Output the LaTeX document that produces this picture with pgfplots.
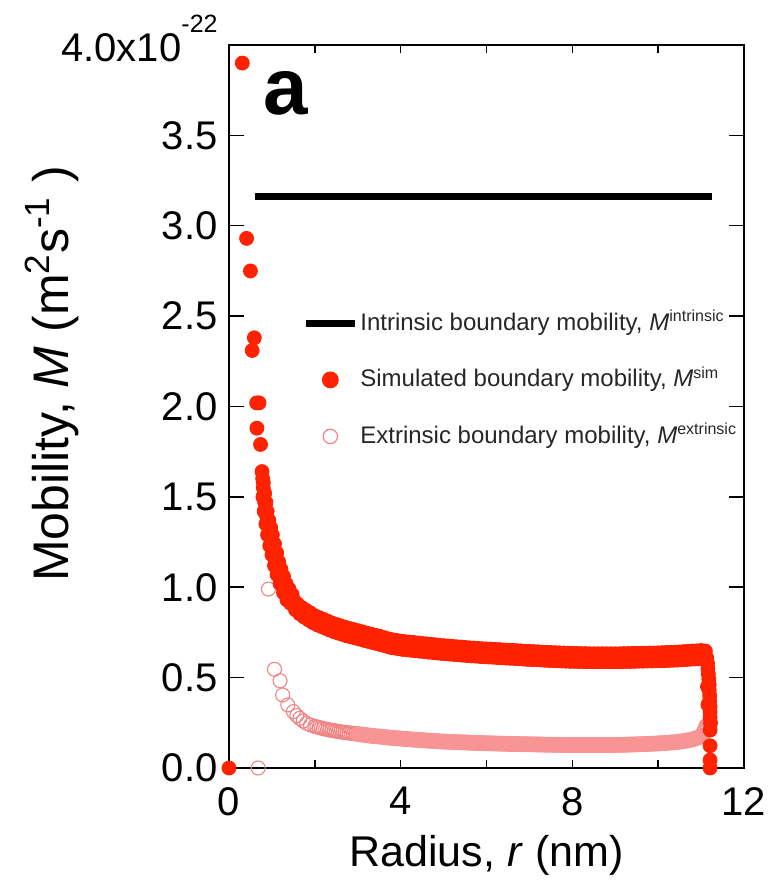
\documentclass[border=0pt]{standalone}
\usepackage{fontspec}
\setmainfont{Liberation Sans}
\usepackage{pgfplots}
\pgfplotsset{compat=1.18}

\definecolor{simred}{RGB}{255,34,0}
\definecolor{extpink}{RGB}{240,132,132}
\definecolor{extband}{RGB}{249,148,148}

\begin{document}
\begin{tikzpicture}
\path[use as bounding box] (-114.5pt,-58pt) rectangle (273pt,384pt);
\begin{axis}[
  scale only axis,
  width=257.5pt, height=361.5pt,
  xmin=0, xmax=12, ymin=0, ymax=4,
  clip=false,
  axis line style={line width=0.75pt},
  tick style={line width=0.75pt, black},
  xtick={0,2,4,6,8,10,12},
  xticklabels={0,,4,,8,,12},
  ytick={0,0.5,1,1.5,2,2.5,3,3.5,4},
  yticklabels={0.0,0.5,1.0,1.5,2.0,2.5,3.0,3.5,{4.0x10\raisebox{14.5pt}[17pt][0pt]{\fontsize{12.5}{13}\selectfont -22}}},
  xtick style={/pgfplots/major tick length=4pt},
  ytick style={/pgfplots/major tick length=7.5pt},
  ticklabel style={font=\fontsize{20}{24}\selectfont},
  yticklabel style={anchor=east, inner sep=0pt, xshift=-5.5pt},
  xticklabel style={anchor=north, inner sep=0pt, yshift=-9.5pt},
  xlabel={Radius, \textit{r} (nm)},
  xlabel style={font=\fontsize{21.5}{24}\selectfont, at={(axis description cs:0.5,-0.1369)}, anchor=base},
  ylabel={Mobility, \textit{M} (m\textsuperscript{2}s\textsuperscript{-1} )},
  ylabel style={font=\fontsize{25}{28}\selectfont, at={(axis description cs:-0.3126,0.545)}, anchor=base, rotate=0},
  legend image code/.code={\draw[mark repeat=2,mark phase=2,#1] plot coordinates {(0pt,0pt) (12.25pt,0pt) (24.5pt,0pt)};},
  legend cell align=left,
  legend style={draw=none, fill=none, inner sep=0pt,
    at={(axis cs:1.70,2.545)}, anchor=north west,
    font=\fontsize{12}{14}\selectfont\color{black!85},
    nodes={inner sep=1pt, text height=10pt, text depth=3pt},
    row sep=13.25pt,
    /tikz/every odd column/.style={column sep=0pt}},
]
% legend entries
\addlegendimage{black, line width=3.5pt}
\addlegendentry{Intrinsic boundary mobility, \textit{M}\textsuperscript{intrinsic}}
\addlegendimage{only marks, mark=*, mark size=4pt, color=simred}
\addlegendentry{Simulated boundary mobility, \textit{M}\textsuperscript{sim}}
\addlegendimage{only marks, mark=o, mark size=3.6pt, color=extpink, mark options={line width=0.6pt}}
\addlegendentry{Extrinsic boundary mobility, \textit{M}\textsuperscript{extrinsic}}

% extrinsic mobility (1e-22 m^2/s): open circles, sparse part
\addplot[forget plot, only marks, mark=o, mark size=3.5pt, color=extpink, mark options={line width=0.55pt}] coordinates {
(0.68,0.00) (0.92,0.99) (1.06,0.546) (1.19,0.483) (1.25,0.404) (1.37,0.349)
(1.50,0.312) (1.58,0.290) (1.65,0.275) (1.73,0.260) (1.81,0.247) (1.90,0.238)
(2.00,.230) (2.05,.227) (2.10,.224) (2.15,.221) (2.20,.218) (2.25,.215) (2.30,.213) (2.35,.210)
(2.40,.208) (2.45,.206) (2.50,.204) (2.55,.202) (2.60,.200) (2.65,.198) (2.70,.197) (2.75,.195)
(2.80,.194) (2.85,.192) (2.90,.191) (2.95,.189)
};
% extrinsic mobility: dense part, circles merge into a band
\addplot[forget plot, only marks, mark=o, mark size=3.4pt, color=extband, mark options={line width=1.1pt}] coordinates {
(3.00,.188) (3.05,.186) (3.10,.185) (3.15,.183)
(3.20,.182) (3.25,.180) (3.30,.179) (3.35,.177) (3.40,.176) (3.45,.175) (3.50,.174) (3.55,.173)
(3.60,.172) (3.65,.170) (3.70,.169) (3.75,.168) (3.80,.167) (3.85,.166) (3.90,.165) (3.95,.164)
(4.00,.163) (4.05,.162) (4.10,.161) (4.15,.160) (4.20,.159) (4.25,.158) (4.30,.157) (4.35,.156)
(4.40,.156) (4.45,.155) (4.50,.154) (4.55,.153) (4.60,.152) (4.65,.151) (4.70,.151) (4.75,.150)
(4.80,.149) (4.85,.148) (4.90,.148) (4.95,.147) (5.00,.146) (5.05,.146) (5.10,.145) (5.15,.145)
(5.20,.144) (5.25,.144) (5.30,.143) (5.35,.143) (5.40,.142) (5.45,.142) (5.50,.141) (5.55,.141)
(5.60,.140) (5.65,.140) (5.70,.139) (5.75,.139) (5.80,.138) (5.85,.138) (5.90,.138) (5.95,.137)
(6.00,.137) (6.05,.137) (6.10,.136) (6.15,.136) (6.20,.136) (6.25,.135) (6.30,.135) (6.35,.135)
(6.40,.134) (6.45,.134) (6.50,.134) (6.55,.133) (6.60,.133) (6.65,.133) (6.70,.133) (6.75,.132)
(6.80,.132) (6.85,.132) (6.90,.132) (6.95,.131) (7.00,.131) (7.05,.131) (7.10,.131) (7.15,.130)
(7.20,.130) (7.25,.130) (7.30,.130) (7.35,.129) (7.40,.129) (7.45,.129) (7.50,.129) (7.55,.128)
(7.60,.128) (7.65,.128) (7.70,.128) (7.75,.128) (7.80,.128) (7.85,.127) (7.90,.127) (7.95,.127)
(8.00,.127) (8.05,.127) (8.10,.127) (8.15,.127) (8.20,.127) (8.25,.127) (8.30,.127) (8.35,.127)
(8.40,.127) (8.45,.127) (8.50,.127) (8.55,.127) (8.60,.127) (8.65,.127) (8.70,.127) (8.75,.127)
(8.80,.127) (8.85,.127) (8.90,.127) (8.95,.127) (9.00,.128) (9.05,.128) (9.10,.128) (9.15,.128)
(9.20,.129) (9.25,.129) (9.30,.129) (9.35,.130) (9.40,.130) (9.45,.130) (9.50,.131) (9.55,.131)
(9.60,.132) (9.65,.132) (9.70,.133) (9.75,.133) (9.80,.134) (9.85,.134) (9.90,.135) (9.95,.135)
(10.00,.136) (10.05,.137) (10.10,.138) (10.15,.138) (10.20,.139) (10.25,.140) (10.30,.141) (10.35,.142)
(10.40,.143) (10.45,.144) (10.50,.146) (10.55,.147) (10.60,.149) (10.65,.151) (10.70,.153) (10.75,.155)
(10.80,.158) (10.85,.162) (10.90,.166) (10.95,.171) (11.00,.178) (11.05,.195) (11.08,.205) (11.10,.215)
(11.12,.232)
};
% intrinsic mobility: constant line
\addplot[forget plot, black, line width=3.5pt] coordinates {(0.61,3.16) (11.25,3.16)};
% simulated mobility (1e-22 m^2/s): filled circles
\addplot[forget plot, only marks, mark=*, mark size=3.5pt, color=simred] coordinates {
(0.00,0.00) (0.31,3.90) (0.41,2.93) (0.50,2.75) (0.54,2.31) (0.59,2.38) (0.645,2.02) (0.70,2.02)
(0.65,1.88) (0.735,1.79) (0.77,1.64) (0.785,1.60) (0.80,1.55) (0.815,1.51) (0.83,1.47) (0.85,1.43)
(0.87,1.40) (0.89,1.37) (0.91,1.34) (0.94,1.31) (0.97,1.28) (1.00,1.24) (1.04,1.20) (1.08,1.15)
(1.12,1.11) (1.17,1.07) (1.22,1.03) (1.28,0.99) (1.35,0.96) (1.42,0.94)
(0.80,1.58) (0.83,1.52) (0.86,1.47) (0.89,1.42) (0.93,1.37) (0.97,1.33) (1.01,1.29) (1.06,1.24)
(1.11,1.19) (1.16,1.14) (1.21,1.10) (1.27,1.06) (1.33,1.02) (1.40,0.99) (1.47,0.96)
(0.79,1.50) (0.82,1.42) (0.86,1.35) (0.90,1.29) (0.95,1.23) (1.00,1.18) (1.06,1.12) (1.12,1.07)
(1.19,1.02) (1.27,0.97) (1.35,0.93) (1.44,0.91)
(1.50,.932) (1.55,.875) (1.60,.907) (1.65,.853) (1.70,.887) (1.75,.835) (1.80,.872) (1.85,.820)
(1.90,.857) (1.95,.805) (2.00,.842) (2.05,.793) (2.10,.832) (2.15,.783) (2.20,.822) (2.25,.773)
(2.30,.812) (2.35,.763) (2.40,.802) (2.45,.754) (2.50,.794) (2.55,.746) (2.60,.787) (2.65,.739)
(2.70,.779) (2.75,.731) (2.80,.772) (2.85,.725) (2.90,.766) (2.95,.719) (3.00,.760) (3.05,.713)
(3.10,.754) (3.15,.706) (3.20,.747) (3.25,.700) (3.30,.741) (3.35,.694) (3.40,.735) (3.45,.688)
(3.50,.730) (3.55,.682) (3.60,.722) (3.65,.675) (3.70,.715) (3.75,.668) (3.80,.710) (3.85,.664)
(3.90,.706) (3.95,.660) (4.00,.702) (4.05,.656) (4.10,.699) (4.15,.654) (4.20,.697) (4.25,.651)
(4.30,.694) (4.35,.649) (4.40,.692) (4.45,.646) (4.50,.689) (4.55,.644) (4.60,.687) (4.65,.641)
(4.70,.684) (4.75,.639) (4.80,.682) (4.85,.636) (4.90,.679) (4.95,.634) (5.00,.677) (5.05,.632)
(5.10,.675) (5.15,.630) (5.20,.673) (5.25,.628) (5.30,.671) (5.35,.626) (5.40,.669) (5.45,.624)
(5.50,.667) (5.55,.622) (5.60,.665) (5.65,.620) (5.70,.664) (5.75,.619) (5.80,.662) (5.85,.617)
(5.90,.660) (5.95,.615) (6.00,.659) (6.05,.614) (6.10,.658) (6.15,.613) (6.20,.656) (6.25,.611)
(6.30,.655) (6.35,.610) (6.40,.653) (6.45,.608) (6.50,.652) (6.55,.607) (6.60,.651) (6.65,.606)
(6.70,.649) (6.75,.604) (6.80,.648) (6.85,.603) (6.90,.646) (6.95,.601) (7.00,.645) (7.05,.600)
(7.10,.644) (7.15,.599) (7.20,.643) (7.25,.598) (7.30,.641) (7.35,.596) (7.40,.640) (7.45,.595)
(7.50,.639) (7.55,.594) (7.60,.638) (7.65,.593) (7.70,.637) (7.75,.592) (7.80,.636) (7.85,.591)
(7.90,.635) (7.95,.590) (8.00,.634) (8.05,.590) (8.10,.634) (8.15,.589) (8.20,.633) (8.25,.589)
(8.30,.633) (8.35,.588) (8.40,.632) (8.45,.588) (8.50,.632) (8.55,.588) (8.60,.632) (8.65,.588)
(8.70,.632) (8.75,.588) (8.80,.632) (8.85,.588) (8.90,.632) (8.95,.588) (9.00,.632) (9.05,.588)
(9.10,.632) (9.15,.588) (9.20,.633) (9.25,.589) (9.30,.633) (9.35,.589) (9.40,.634) (9.45,.590)
(9.50,.634) (9.55,.591) (9.60,.635) (9.65,.591) (9.70,.635) (9.75,.592) (9.80,.636) (9.85,.592)
(9.90,.636) (9.95,.593) (10.00,.637) (10.05,.593) (10.10,.638) (10.15,.594) (10.20,.639) (10.25,.595)
(10.30,.640) (10.35,.596) (10.40,.641) (10.45,.597) (10.50,.642) (10.55,.599) (10.60,.644) (10.65,.600)
(10.70,.645) (10.75,.602) (10.80,.647) (10.85,.603) (10.90,.648) (10.95,.605) (11.00,.650) (11.05,.606)
(11.10,.647) (11.13,.61) (11.15,.58) (11.16,.55) (11.17,.52) (11.18,.49) (11.19,.46) (11.19,.43)
(11.20,.40) (11.20,.37) (11.21,.34) (11.21,.31) (11.21,.28) (11.22,.25) (11.15,.45) (11.16,.35)
(11.21,.21) (11.21,.123) (11.21,.044) (11.21,0.00)
};

\node[font=\fontsize{40}{40}\selectfont\bfseries, anchor=base] at (axis cs:1.33,3.613) {a};
\end{axis}
\end{tikzpicture}
\end{document}
